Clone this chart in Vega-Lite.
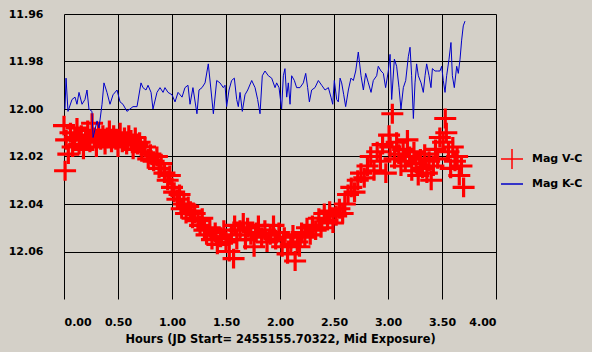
{
  "$schema": "https://vega.github.io/schema/vega-lite/v6.json",
  "width": 432,
  "height": 285,
  "autosize": {"type": "none"},
  "padding": {"left": 64, "top": 14, "right": 96, "bottom": 53},
  "background": "#d4d0c8",
  "config": {
    "view": {"stroke": null},
    "font": "DejaVu Sans",
    "axis": {
      "labelFont": "DejaVu Sans",
      "labelFontWeight": "bold",
      "labelFontSize": 11,
      "labelColor": "#000000",
      "titleFont": "DejaVu Sans",
      "titleFontWeight": "bold",
      "titleFontSize": 11.4,
      "titleColor": "#000000",
      "grid": true,
      "gridColor": "#000000",
      "gridOpacity": 1,
      "gridWidth": 1,
      "ticks": false,
      "domain": false
    }
  },
  "datasets": {
    "vc": [
      {"t":0.00,"m":12.007},{"t":0.01,"m":12.026},{"t":0.02,"m":12.013},{"t":0.04,"m":12.019},{"t":0.06,"m":12.010},{"t":0.08,"m":12.016},{"t":0.10,"m":12.012},{"t":0.12,"m":12.008},{"t":0.14,"m":12.015},{"t":0.16,"m":12.011},{"t":0.18,"m":12.017},{"t":0.20,"m":12.013},{"t":0.22,"m":12.009},{"t":0.24,"m":12.014},{"t":0.26,"m":12.006},{"t":0.28,"m":12.012},{"t":0.30,"m":12.016},{"t":0.32,"m":12.010},{"t":0.34,"m":12.013},{"t":0.36,"m":12.011},{"t":0.38,"m":12.015},{"t":0.40,"m":12.012},{"t":0.42,"m":12.009},{"t":0.44,"m":12.014},{"t":0.46,"m":12.011},{"t":0.48,"m":12.013},{"t":0.50,"m":12.016},{"t":0.52,"m":12.010},{"t":0.54,"m":12.014},{"t":0.56,"m":12.012},{"t":0.58,"m":12.015},{"t":0.60,"m":12.011},{"t":0.62,"m":12.013},{"t":0.64,"m":12.017},{"t":0.66,"m":12.012},{"t":0.68,"m":12.015},{"t":0.70,"m":12.014},{"t":0.72,"m":12.018},
      {"t":0.75,"m":12.016},{"t":0.78,"m":12.021},{"t":0.80,"m":12.019},{"t":0.83,"m":12.022},{"t":0.86,"m":12.020},{"t":0.88,"m":12.025},{"t":0.90,"m":12.023},{"t":0.93,"m":12.027},{"t":0.96,"m":12.030},{"t":0.98,"m":12.028},{"t":1.00,"m":12.033},{"t":1.02,"m":12.035},{"t":1.05,"m":12.038},{"t":1.07,"m":12.036},{"t":1.09,"m":12.042},{"t":1.11,"m":12.040},{"t":1.13,"m":12.044},{"t":1.15,"m":12.041},{"t":1.17,"m":12.043},{"t":1.19,"m":12.046},{"t":1.21,"m":12.044},{"t":1.24,"m":12.047},{"t":1.26,"m":12.049},{"t":1.28,"m":12.046},{"t":1.30,"m":12.051},{"t":1.32,"m":12.053},{"t":1.35,"m":12.050},{"t":1.37,"m":12.055},{"t":1.40,"m":12.052},{"t":1.42,"m":12.057},{"t":1.45,"m":12.054},{"t":1.48,"m":12.051},{"t":1.50,"m":12.056},{"t":1.53,"m":12.060},{"t":1.55,"m":12.053},{"t":1.57,"m":12.063},{"t":1.58,"m":12.049},{"t":1.60,"m":12.055},{"t":1.63,"m":12.051},{"t":1.66,"m":12.048},{"t":1.68,"m":12.055},{"t":1.70,"m":12.050},{"t":1.73,"m":12.053},{"t":1.76,"m":12.058},{"t":1.78,"m":12.052},{"t":1.80,"m":12.049},{"t":1.83,"m":12.054},{"t":1.86,"m":12.051},{"t":1.88,"m":12.056},{"t":1.91,"m":12.053},{"t":1.94,"m":12.049},{"t":1.96,"m":12.055},{"t":1.99,"m":12.052},{"t":2.02,"m":12.058},{"t":2.04,"m":12.054},{"t":2.07,"m":12.061},{"t":2.10,"m":12.057},{"t":2.12,"m":12.053},{"t":2.14,"m":12.064},{"t":2.16,"m":12.056},{"t":2.18,"m":12.058},{"t":2.20,"m":12.052},{"t":2.23,"m":12.054},{"t":2.25,"m":12.050},{"t":2.28,"m":12.053},{"t":2.30,"m":12.049},{"t":2.33,"m":12.051},{"t":2.36,"m":12.046},{"t":2.38,"m":12.050},{"t":2.41,"m":12.044},{"t":2.44,"m":12.047},{"t":2.46,"m":12.043},{"t":2.49,"m":12.048},{"t":2.52,"m":12.045},{"t":2.55,"m":12.042},{"t":2.58,"m":12.044},{"t":2.60,"m":12.040},{"t":2.63,"m":12.036},{"t":2.66,"m":12.033},{"t":2.69,"m":12.035},{"t":2.72,"m":12.030},{"t":2.75,"m":12.027},{"t":2.78,"m":12.029},{"t":2.81,"m":12.024},{"t":2.84,"m":12.020},{"t":2.87,"m":12.026},{"t":2.90,"m":12.018},{"t":2.93,"m":12.022},{"t":2.95,"m":12.015},{"t":2.98,"m":12.027},{"t":3.01,"m":12.011},{"t":3.02,"m":12.016},{"t":3.04,"m":12.002},{"t":3.06,"m":12.021},{"t":3.08,"m":12.014},{"t":3.10,"m":12.019},{"t":3.12,"m":12.024},{"t":3.14,"m":12.017},{"t":3.16,"m":12.022},{"t":3.18,"m":12.013},{"t":3.20,"m":12.020},{"t":3.22,"m":12.026},{"t":3.24,"m":12.018},{"t":3.26,"m":12.023},{"t":3.28,"m":12.028},{"t":3.30,"m":12.021},{"t":3.32,"m":12.025},{"t":3.34,"m":12.019},{"t":3.36,"m":12.027},{"t":3.38,"m":12.022},{"t":3.40,"m":12.030},{"t":3.42,"m":12.024},{"t":3.44,"m":12.017},{"t":3.46,"m":12.021},{"t":3.48,"m":12.012},{"t":3.51,"m":12.014},{"t":3.53,"m":12.004},{"t":3.54,"m":12.010},{"t":3.56,"m":12.018},{"t":3.58,"m":12.025},{"t":3.60,"m":12.016},{"t":3.62,"m":12.022},{"t":3.64,"m":12.020},{"t":3.66,"m":12.028},{"t":3.68,"m":12.024},{"t":3.70,"m":12.033}
    ],
    "kc": [
      {"t":0.009,"m":12.000},{"t":0.019,"m":11.987},{"t":0.037,"m":12.001},{"t":0.074,"m":11.996},{"t":0.102,"m":11.995},{"t":0.120,"m":11.998},{"t":0.139,"m":11.993},{"t":0.167,"m":11.998},{"t":0.194,"m":11.996},{"t":0.213,"m":11.992},{"t":0.231,"m":12.000},{"t":0.259,"m":12.001},{"t":0.269,"m":12.012},{"t":0.306,"m":12.005},{"t":0.324,"m":12.008},{"t":0.352,"m":11.998},{"t":0.370,"m":11.989},{"t":0.398,"m":11.993},{"t":0.426,"m":11.998},{"t":0.454,"m":11.994},{"t":0.491,"m":11.992},{"t":0.519,"m":11.997},{"t":0.546,"m":11.998},{"t":0.583,"m":12.001},{"t":0.611,"m":12.000},{"t":0.639,"m":11.999},{"t":0.676,"m":11.999},{"t":0.713,"m":11.989},{"t":0.731,"m":11.991},{"t":0.759,"m":11.992},{"t":0.778,"m":11.990},{"t":0.806,"m":11.993},{"t":0.824,"m":12.000},{"t":0.861,"m":11.993},{"t":0.889,"m":11.991},{"t":0.917,"m":11.993},{"t":0.935,"m":11.991},{"t":0.963,"m":11.993},{"t":1.000,"m":11.994},{"t":1.028,"m":11.997},{"t":1.056,"m":11.993},{"t":1.093,"m":11.995},{"t":1.120,"m":11.991},{"t":1.148,"m":11.990},{"t":1.167,"m":11.998},{"t":1.194,"m":11.991},{"t":1.231,"m":12.002},{"t":1.250,"m":11.992},{"t":1.278,"m":11.991},{"t":1.306,"m":11.989},
      {"t":1.336,"m":11.981},{"t":1.361,"m":11.992},{"t":1.383,"m":12.002},{"t":1.414,"m":11.988},{"t":1.444,"m":11.989},{"t":1.475,"m":11.991},{"t":1.491,"m":11.990},{"t":1.506,"m":11.999},{"t":1.528,"m":11.992},{"t":1.552,"m":11.988},{"t":1.577,"m":11.987},{"t":1.599,"m":11.996},{"t":1.614,"m":11.999},{"t":1.630,"m":11.993},{"t":1.651,"m":12.001},{"t":1.676,"m":11.994},{"t":1.701,"m":11.992},{"t":1.738,"m":11.988},{"t":1.769,"m":11.991},{"t":1.793,"m":11.996},{"t":1.815,"m":12.002},{"t":1.836,"m":11.986},{"t":1.861,"m":11.984},{"t":1.892,"m":11.986},{"t":1.923,"m":11.987},{"t":1.954,"m":11.991},{"t":1.969,"m":11.989},{"t":1.991,"m":11.991},{"t":2.015,"m":12.000},{"t":2.031,"m":11.986},{"t":2.046,"m":11.983},{"t":2.062,"m":11.995},{"t":2.077,"m":11.989},{"t":2.093,"m":11.998},{"t":2.108,"m":11.986},{"t":2.133,"m":11.988},{"t":2.154,"m":11.991},{"t":2.185,"m":11.991},{"t":2.216,"m":11.989},{"t":2.238,"m":11.985},{"t":2.256,"m":11.991},{"t":2.272,"m":11.997},{"t":2.293,"m":11.992},{"t":2.324,"m":11.991},{"t":2.355,"m":11.988},{"t":2.386,"m":11.990},{"t":2.417,"m":11.992},{"t":2.448,"m":11.991},{"t":2.472,"m":11.995},{"t":2.488,"m":11.998},{"t":2.503,"m":11.988},{"t":2.525,"m":11.996},{"t":2.540,"m":11.997},{"t":2.556,"m":11.987},{"t":2.571,"m":11.989},{"t":2.590,"m":11.994},{"t":2.608,"m":11.999},
      {"t":2.633,"m":11.992},{"t":2.657,"m":11.987},{"t":2.679,"m":11.988},{"t":2.701,"m":11.984},{"t":2.725,"m":11.976},{"t":2.750,"m":11.986},{"t":2.772,"m":11.992},{"t":2.793,"m":11.985},{"t":2.818,"m":11.989},{"t":2.843,"m":11.993},{"t":2.864,"m":11.988},{"t":2.895,"m":11.986},{"t":2.910,"m":11.982},{"t":2.935,"m":11.984},{"t":2.957,"m":11.985},{"t":2.978,"m":11.991},{"t":3.003,"m":11.984},{"t":3.019,"m":11.977},{"t":3.034,"m":11.996},{"t":3.059,"m":11.979},{"t":3.080,"m":11.982},{"t":3.102,"m":11.991},{"t":3.120,"m":12.000},{"t":3.142,"m":11.991},{"t":3.164,"m":11.988},{"t":3.188,"m":11.978},{"t":3.204,"m":11.974},{"t":3.219,"m":11.986},{"t":3.235,"m":12.004},{"t":3.250,"m":11.989},{"t":3.265,"m":11.981},{"t":3.281,"m":11.986},{"t":3.306,"m":11.989},{"t":3.327,"m":11.993},{"t":3.343,"m":11.986},{"t":3.358,"m":11.981},{"t":3.380,"m":11.986},{"t":3.398,"m":11.991},{"t":3.411,"m":11.983},{"t":3.435,"m":11.984},{"t":3.460,"m":11.984},{"t":3.481,"m":11.984},{"t":3.497,"m":11.982},{"t":3.512,"m":11.988},{"t":3.528,"m":11.993},{"t":3.543,"m":11.986},{"t":3.565,"m":11.979},{"t":3.583,"m":11.972},{"t":3.596,"m":11.986},{"t":3.614,"m":11.991},{"t":3.636,"m":11.982},{"t":3.651,"m":11.985},{"t":3.667,"m":11.979},{"t":3.682,"m":11.971},{"t":3.697,"m":11.965},{"t":3.713,"m":11.963}
    ]
  },
  "encoding": {
    "x": {
      "field": "t",
      "type": "quantitative",
      "scale": {"domain": [0, 4], "nice": false, "zero": false},
      "axis": {
        "values": [0, 0.5, 1, 1.5, 2, 2.5, 3, 3.5, 4],
        "format": ".2f",
        "labelPadding": 17,
        "title": "Hours (JD Start= 2455155.70322, Mid Exposure)",
        "titlePadding": 6
      }
    },
    "y": {
      "field": "m",
      "type": "quantitative",
      "scale": {"domain": [11.96, 12.08], "nice": false, "zero": false, "reverse": true},
      "axis": {
        "values": [11.96, 11.98, 12.0, 12.02, 12.04, 12.06],
        "format": ".2f",
        "labelPadding": 21,
        "title": null
      }
    }
  },
  "layer": [
    {
      "data": {"name": "vc"},
      "mark": {"type": "point", "size": 484, "filled": false, "strokeWidth": 3.2, "opacity": 1},
      "encoding": {
        "shape": {
          "datum": "Mag V-C",
          "type": "nominal",
          "scale": {"domain": ["Mag V-C", "Mag K-C"], "range": ["M-1,0H1M0,-0.9V0.9", "M-1,0H1"]},
          "legend": null
        },
        "color": {
          "datum": "Mag V-C",
          "type": "nominal",
          "scale": {"domain": ["Mag V-C", "Mag K-C"], "range": ["#ff0000", "#0000c8"]},
          "legend": {
            "title": null,
            "orient": "none",
            "legendX": 436,
            "legendY": 133,
            "labelFont": "DejaVu Sans",
            "labelFontWeight": "bold",
            "labelFontSize": 11,
            "labelColor": "#000000",
            "labelOffset": 8,
            "symbolSize": 484,
            "rowPadding": -5,
            "padding": 0,
            "encode": {
              "symbols": {
                "update": {
                  "shape": {"scale": "shape", "field": "value"},
                  "strokeWidth": {"signal": "datum.value === 'Mag V-C' ? 3.8 : 1"},
                  "fill": {"value": "transparent"},
                  "opacity": {"value": 1}
                }
              }
            }
          }
        }
      }
    },
    {
      "data": {"name": "kc"},
      "mark": {"type": "line", "strokeWidth": 1},
      "encoding": {
        "color": {"datum": "Mag K-C", "type": "nominal"}
      }
    }
  ]
}
